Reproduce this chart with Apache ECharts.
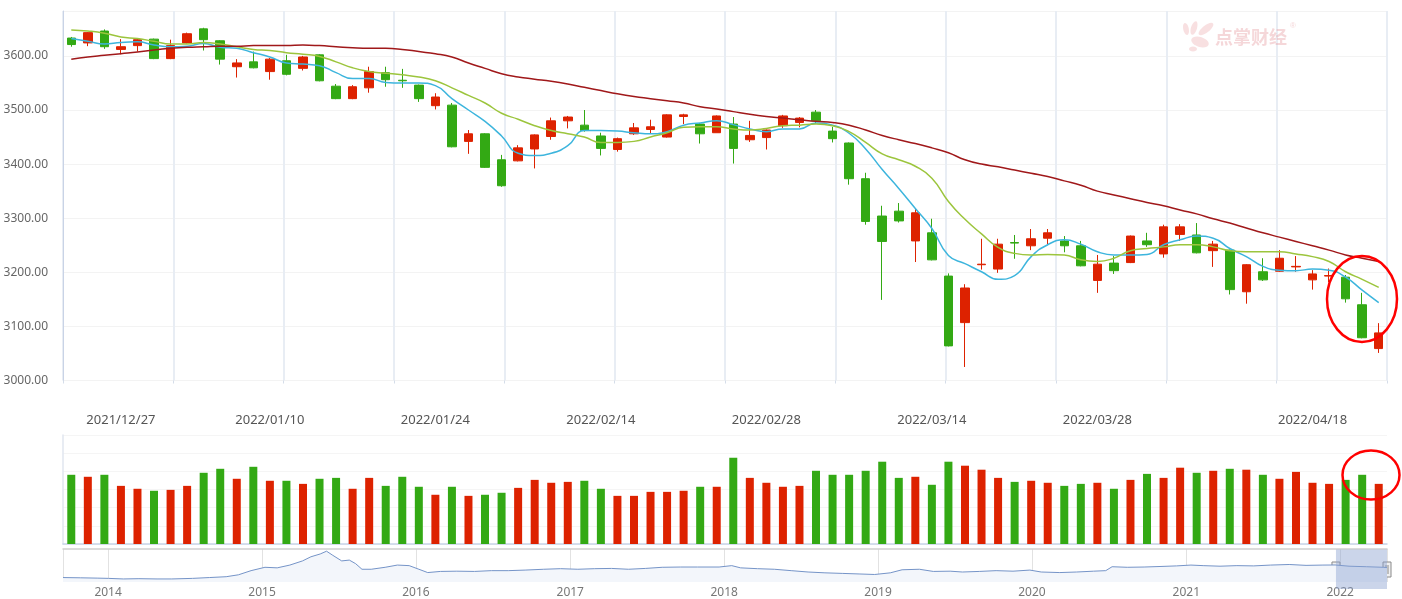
<!DOCTYPE html>
<html><head><meta charset="utf-8">
<script src="https://cdn.jsdelivr.net/npm/echarts/dist/echarts.min.js"></script>
<style>html,body{margin:0;padding:0;background:#fff}#c{width:1402px;height:599px}</style>
</head><body><div id="c"></div>
<script>
const dates = ['2021/12/22','2021/12/23','2021/12/24','2021/12/27','2021/12/28','2021/12/29','2021/12/30','2021/12/31',
'2022/01/04','2022/01/05','2022/01/06','2022/01/07','2022/01/10','2022/01/11','2022/01/12','2022/01/13','2022/01/14',
'2022/01/17','2022/01/18','2022/01/19','2022/01/20','2022/01/21','2022/01/24','2022/01/25','2022/01/26','2022/01/27','2022/01/28',
'2022/02/07','2022/02/08','2022/02/09','2022/02/10','2022/02/11','2022/02/14','2022/02/15','2022/02/16','2022/02/17','2022/02/18',
'2022/02/21','2022/02/22','2022/02/23','2022/02/24','2022/02/25','2022/02/28','2022/03/01','2022/03/02','2022/03/03','2022/03/04',
'2022/03/07','2022/03/08','2022/03/09','2022/03/10','2022/03/11','2022/03/14','2022/03/15','2022/03/16','2022/03/17','2022/03/18',
'2022/03/21','2022/03/22','2022/03/23','2022/03/24','2022/03/25','2022/03/28','2022/03/29','2022/03/30','2022/03/31','2022/04/01',
'2022/04/06','2022/04/07','2022/04/08','2022/04/11','2022/04/12','2022/04/13','2022/04/14','2022/04/15',
'2022/04/18','2022/04/19','2022/04/20','2022/04/21','2022/04/22'];
const opens  = [3633,3624,3646,3612,3619,3631,3595,3624,3650,3628,3580,3589,3571,3591,3577,3602,3544,3521,3541,3569,3555,3546,3508,3509,3442,3456,3408,3406,3428,3451,3480,3472,3452,3427,3456,3464,3450,3488,3474,3458,3474,3445,3449,3471,3477,3496,3461,3439,3373,3304,3313,3258,3273,3193,3107,3214,3206,3255,3249,3263,3258,3249,3185,3217,3218,3258,3234,3270,3269,3240,3241,3164,3201,3202,3210,3186,3193,3191,3140,3059];
const closes = [3621,3643,3617,3617,3630,3595,3619,3641,3630,3594,3587,3578,3594,3566,3598,3554,3521,3543,3571,3556,3554,3521,3524,3432,3456,3394,3360,3430,3454,3480,3487,3462,3429,3447,3467,3469,3491,3491,3456,3489,3429,3453,3463,3489,3485,3480,3447,3373,3294,3257,3295,3310,3223,3064,3171,3215,3252,3254,3262,3273,3249,3212,3215,3203,3267,3251,3284,3284,3236,3252,3168,3214,3186,3226,3211,3197,3194,3151,3079,3088];
const lows   = [3617,3618,3613,3603,3608,3594,3594,3623,3610,3584,3560,3577,3556,3564,3573,3553,3520,3520,3532,3543,3541,3515,3501,3431,3419,3393,3358,3405,3392,3445,3466,3460,3416,3423,3454,3456,3449,3474,3438,3458,3401,3441,3427,3467,3468,3475,3440,3362,3288,3149,3292,3219,3222,3063,3025,3205,3199,3225,3241,3252,3237,3211,3162,3197,3217,3247,3227,3258,3235,3210,3159,3142,3184,3201,3201,3168,3182,3144,3078,3051];
const highs  = [3635,3644,3649,3631,3632,3632,3630,3643,3652,3629,3594,3608,3596,3602,3600,3603,3548,3546,3580,3580,3576,3547,3531,3513,3463,3457,3417,3435,3455,3486,3489,3500,3458,3449,3476,3482,3492,3493,3476,3490,3487,3480,3464,3491,3487,3500,3469,3440,3384,3323,3328,3317,3299,3198,3178,3262,3262,3269,3280,3280,3267,3258,3232,3230,3268,3273,3288,3289,3291,3258,3242,3215,3226,3241,3230,3204,3207,3195,3162,3106];
const ma5  = [3632,3627,3622,3625,3626,3620,3617,3618,3623,3616,3614,3606,3598,3587,3585,3582,3569,3558,3558,3551,3550,3550,3545,3521,3500,3479,3452,3420,3416,3420,3434,3462,3462,3461,3458,3456,3460,3472,3476,3480,3473,3465,3460,3465,3465,3476,3472,3457,3428,3390,3355,3318,3281,3231,3216,3201,3187,3194,3229,3251,3260,3252,3238,3232,3232,3233,3251,3260,3267,3263,3244,3229,3211,3204,3203,3206,3204,3191,3167,3144];
const ma10 = [3648,3646,3642,3635,3632,3627,3622,3622,3625,3622,3617,3612,3610,3606,3603,3599,3589,3578,3571,3568,3565,3561,3554,3541,3527,3513,3494,3483,3471,3462,3456,3450,3440,3440,3442,3450,3458,3468,3469,3469,3465,3463,3466,3471,3472,3474,3471,3460,3440,3419,3408,3396,3374,3331,3298,3271,3246,3235,3232,3233,3232,3223,3220,3226,3240,3244,3247,3251,3251,3247,3240,3238,3238,3238,3234,3229,3220,3201,3187,3172];
const ma30 = [3594,3598,3601,3604,3607,3611,3614,3616,3617,3618,3618,3619,3619,3619,3620,3619,3617,3615,3614,3614,3612,3608,3604,3598,3587,3577,3567,3561,3557,3553,3548,3542,3536,3530,3525,3521,3517,3513,3506,3502,3497,3492,3488,3485,3482,3479,3477,3472,3463,3453,3445,3438,3430,3421,3408,3400,3395,3389,3383,3377,3369,3361,3350,3343,3336,3329,3323,3315,3308,3299,3291,3282,3273,3265,3257,3249,3241,3232,3226,3220];
const volumes = [3810,3700,3810,3200,3040,2930,2980,3200,3920,4140,3590,4250,3480,3480,3310,3590,3640,3040,3640,3200,3700,3150,2710,3150,2650,2710,2820,3090,3530,3370,3420,3480,3040,2650,2650,2870,2870,2930,3150,3150,4750,3640,3370,3150,3200,4030,3810,3810,4030,4530,3640,3700,3260,4530,4310,4090,3640,3420,3480,3370,3200,3310,3370,3040,3530,3860,3640,4200,3920,4030,4140,4090,3810,3590,3970,3370,3310,3530,3810,3310];
const labelDates = ['2021/12/27','2022/01/10','2022/01/24','2022/02/14','2022/02/28','2022/03/14','2022/03/28','2022/04/18'];
const histDates = ['2013-09-16','2013-10-27','2013-12-06','2014-01-02','2014-02-06','2014-03-15','2014-04-27','2014-06-01','2014-07-20','2014-08-29','2014-10-08','2014-11-06','2014-12-06',
'2015-01-08','2015-02-06','2015-03-08','2015-04-07','2015-04-27','2015-05-19','2015-06-03','2015-06-18','2015-07-09','2015-07-27','2015-08-11','2015-08-26','2015-09-17','2015-10-20','2015-11-18','2015-12-16',
'2016-01-08','2016-01-29','2016-02-28','2016-04-07','2016-05-19','2016-06-28','2016-08-07','2016-09-16','2016-10-30','2016-12-09',
'2017-01-19','2017-02-28','2017-04-09','2017-05-19','2017-06-28','2017-08-07','2017-09-20','2017-10-30','2017-12-20',
'2018-01-19','2018-02-09','2018-03-21','2018-04-30','2018-06-09','2018-07-19','2018-08-28','2018-10-08','2018-11-17','2018-12-24',
'2019-01-30','2019-02-27','2019-04-09','2019-05-12','2019-06-21','2019-07-20','2019-08-29','2019-10-08','2019-11-17','2019-12-27',
'2020-01-23','2020-03-07','2020-04-16','2020-05-26','2020-06-24','2020-07-09','2020-08-14','2020-09-23','2020-11-02','2020-12-09',
'2021-01-12','2021-02-10','2021-03-22','2021-05-01','2021-06-10','2021-07-20','2021-09-02','2021-10-12','2021-11-21','2021-12-20',
'2022-01-22','2022-03-04','2022-04-13','2022-04-22'];
const histValues = [2160,2130,2095,2065,2000,2030,2000,2000,2065,2160,2255,2475,2950,
3335,3270,3590,4065,4540,4860,5178,4700,4065,4160,3750,3110,3110,3335,3590,3525,
3110,2730,2860,2890,2860,2950,2950,3015,3110,3175,
3110,3175,3205,3110,3205,3335,3365,3365,3365,
3525,3270,3175,3110,2950,2795,2700,2635,2570,2510,
2700,3050,3110,2860,2890,2795,2860,2950,2890,3015,
2795,2730,2795,2890,2950,3400,3335,3365,3430,3495,
3590,3525,3460,3525,3495,3590,3655,3555,3590,3600,
3460,3400,3335,3300];

const UP = '#dd2200', DOWN = '#33a914';
const FONT = 'Noto Sans, Liberation Sans, sans-serif';
const kData = dates.map((d, i) => [opens[i], closes[i], lows[i], highs[i]]);
const volData = volumes.map((v, i) => ({value: v, itemStyle: {color: closes[i] >= opens[i] ? UP : DOWN}}));
const histData = histDates.map((d, i) => [d, histValues[i]]);
const YEAR = 365.25 * 24 * 3600 * 1000;

const chart = echarts.init(document.getElementById('c'), null, {renderer: 'canvas'});
chart.setOption({
  animation: false,
  backgroundColor: '#fff',
  grid: [
    {left: 63, right: 15, top: 11, height: 369.5},
    {left: 63, right: 15, top: 435, height: 109},
    {left: 63, right: 15, top: 549, height: 40}
  ],
  xAxis: [
    {type: 'category', gridIndex: 0, data: dates, boundaryGap: true,
     axisLine: {show: false}, axisTick: {show: false}, splitLine: {show: false},
     axisLabel: {margin: 33, color: '#555', fontSize: 13, fontFamily: FONT,
       interval: (idx, val) => labelDates.indexOf(val) >= 0}},
    {type: 'category', gridIndex: 1, data: dates, boundaryGap: true,
     axisLine: {lineStyle: {color: '#c8d4e8', width: 1.5}}, axisTick: {show: false}, axisLabel: {show: false}},
    {type: 'value', gridIndex: 0, min: 0, max: 12, interval: 1, position: 'bottom',
     axisLine: {show: false}, axisLabel: {show: false},
     axisTick: {show: true, length: 3, lineStyle: {color: '#d5dde9', width: 1}},
     splitLine: {show: true, lineStyle: {color: '#e8edf4', width: 2}}},
    {type: 'time', gridIndex: 2, min: '2013-09-16', max: '2022-04-22', position: 'bottom',
     minInterval: YEAR * 0.99, maxInterval: YEAR * 1.01,
     axisLine: {show: false}, axisTick: {show: false},
     axisLabel: {formatter: '{yyyy}', color: '#777', fontSize: 12, fontFamily: FONT, margin: 5,
       showMinLabel: false, showMaxLabel: false},
     splitLine: {show: true, lineStyle: {color: '#e2e2e2', width: 1}}},
    {type: 'time', gridIndex: 2, min: '2013-09-16', max: '2022-04-22', position: 'top',
     axisLine: {show: true, lineStyle: {color: '#cfcfcf', width: 1.5}}, axisTick: {show: false},
     axisLabel: {show: false}, splitLine: {show: false}}
  ],
  yAxis: [
    {type: 'value', gridIndex: 0, min: 3000, max: 3683, interval: 100, scale: true,
     axisLine: {show: true, lineStyle: {color: '#c9d3e6', width: 1}}, axisTick: {show: false},
     axisLabel: {formatter: v => v.toFixed(2), color: '#666', fontSize: 12, fontFamily: FONT, margin: 15,
       showMaxLabel: false},
     splitLine: {show: true, lineStyle: {color: '#f3f3f3', width: 1}}},
    {type: 'value', gridIndex: 1, min: 0, max: 6000, interval: 1000,
     axisLine: {show: true, lineStyle: {color: '#e0e6ef', width: 1.5}}, axisTick: {show: false},
     axisLabel: {show: false}, splitLine: {show: true, lineStyle: {color: '#f5f5f5'}}},
    {type: 'value', gridIndex: 2, min: 1650, max: 5430, show: false, splitLine: {show: false}}
  ],
  series: [
    {type: 'candlestick', xAxisIndex: 0, yAxisIndex: 0, data: kData, barWidth: 9,
     itemStyle: {color: UP, color0: DOWN, borderColor: UP, borderColor0: DOWN, borderWidth: 1}},
    {type: 'line', name: 'MA5', xAxisIndex: 0, yAxisIndex: 0, data: ma5, smooth: true, showSymbol: false,
     lineStyle: {color: '#3db5dd', width: 1.5}},
    {type: 'line', name: 'MA10', xAxisIndex: 0, yAxisIndex: 0, data: ma10, smooth: true, showSymbol: false,
     lineStyle: {color: '#9cc53d', width: 1.5}},
    {type: 'line', name: 'MA30', xAxisIndex: 0, yAxisIndex: 0, data: ma30, smooth: true, showSymbol: false,
     lineStyle: {color: '#a0181a', width: 1.5}},
    {type: 'bar', xAxisIndex: 1, yAxisIndex: 1, data: volData, barWidth: 8},
    {type: 'line', xAxisIndex: 3, yAxisIndex: 2, data: histData, showSymbol: false, smooth: false,
     lineStyle: {color: '#7594c8', width: 1}, areaStyle: {color: '#f3f6fb', opacity: 1}}
  ]
});

const x0 = chart.convertToPixel({xAxisIndex: 3}, dates[0].replace(/\//g, '-'));
const x1 = chart.convertToPixel({xAxisIndex: 3}, dates[dates.length - 1].replace(/\//g, '-'));
function handle(x) {
  return {type: 'group', x: x - 4, y: 562, children: [
    {type: 'rect', shape: {x: 0, y: 0, width: 8, height: 15}, style: {fill: '#f0f0f0', stroke: '#8a8a8a', lineWidth: 1}},
    {type: 'line', shape: {x1: 3, y1: 3, x2: 3, y2: 12}, style: {stroke: '#8a8a8a', lineWidth: 1}},
    {type: 'line', shape: {x1: 5, y1: 3, x2: 5, y2: 12}, style: {stroke: '#8a8a8a', lineWidth: 1}}
  ]};
}
const PINK = 'rgba(235,165,170,0.35)';
chart.setOption({graphic: [
  {type: 'rect', shape: {x: x0, y: 549.5, width: x1 - x0, height: 39.5},
   style: {fill: 'rgba(140,162,208,0.45)'}, z: 10},
  Object.assign(handle(x0), {z: 11}),
  Object.assign(handle(x1), {z: 11}),
  {type: 'group', x: 1182, y: 20, z: 1, children: [
    {type: 'ellipse', shape: {cx: 0, cy: 0, rx: 2.8, ry: 6}, x: 4, y: 9, rotation: 0.2, style: {fill: PINK}},
    {type: 'ellipse', shape: {cx: 0, cy: 0, rx: 3, ry: 7}, x: 12, y: 8, rotation: -0.3, style: {fill: PINK}},
    {type: 'ellipse', shape: {cx: 0, cy: 0, rx: 3.5, ry: 9}, x: 24, y: 9, rotation: -0.9, style: {fill: PINK}},
    {type: 'ellipse', shape: {cx: 0, cy: 0, rx: 9, ry: 5}, x: 18, y: 22, rotation: -0.3, style: {fill: PINK}},
    {type: 'ellipse', shape: {cx: 0, cy: 0, rx: 4, ry: 2.5}, x: 11, y: 29, style: {fill: PINK}}
  ]},
  {type: 'text', x: 1215, y: 28, z: 1, style: {text: '点掌财经', fill: 'rgba(232,160,165,0.42)',
    font: 'bold 18px "Noto Sans CJK SC", sans-serif'}},
  {type: 'text', x: 1290, y: 22, z: 1, style: {text: '®', fill: 'rgba(232,160,165,0.42)', font: '8px sans-serif'}},
  {type: 'ellipse', shape: {cx: 1362, cy: 299, rx: 35, ry: 43}, z: 20,
   style: {fill: 'none', stroke: '#ff0000', lineWidth: 2.5}},
  {type: 'ellipse', shape: {cx: 1371, cy: 475, rx: 28.5, ry: 24.5}, z: 20,
   style: {fill: 'none', stroke: '#ff0000', lineWidth: 2.5}}
]});
</script>
</body></html>
